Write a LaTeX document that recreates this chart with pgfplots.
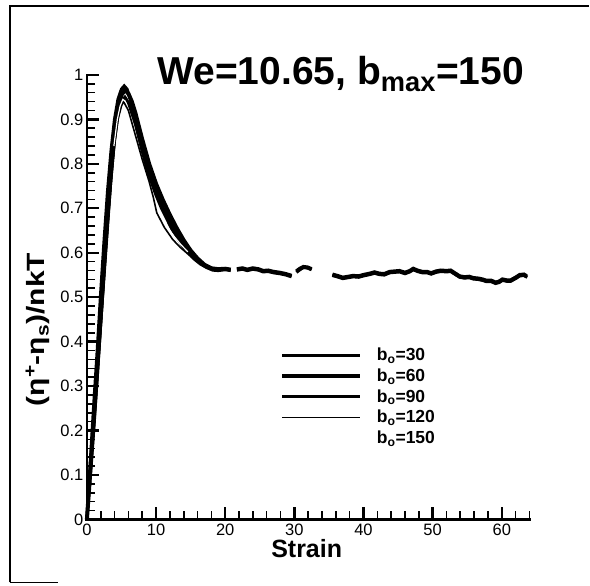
\documentclass[border=0pt]{standalone}
\usepackage{fontspec}
\setmainfont{Liberation Sans}
\usepackage{pgfplots}
\pgfplotsset{compat=1.18}
\begin{document}
\begin{tikzpicture}[x=1pt,y=1pt]
\path (0,0) rectangle (590,-586);
\draw[line width=1.3pt] (10,-583) -- (10,-6) -- (590,-6);
\draw[line width=1.3pt] (10,-583) -- (58,-583);
\begin{axis}[
  at={(87pt,-520pt)}, anchor=south west,
  scale only axis, width=443pt, height=445pt,
  xmin=0, xmax=64, ymin=0, ymax=1,
  axis line style={draw=none},
  xtick pos=left, ytick pos=left,
  xtick align=inside, ytick align=inside,
  xtick={0,10,20,30,40,50,60},
  minor xtick={2,4,6,8,12,14,16,18,22,24,26,28,32,34,36,38,42,44,46,48,52,54,56,58,62,64},
  ytick={0,0.1,0.2,0.3,0.4,0.5,0.6,0.7,0.8,0.9,1},
  minor ytick={0.02,0.04,0.06,0.08,0.12,0.14,0.16,0.18,0.22,0.24,0.26,0.28,0.32,0.34,0.36,0.38,0.42,0.44,0.46,0.48,0.52,0.54,0.56,0.58,0.62,0.64,0.66,0.68,0.72,0.74,0.76,0.78,0.82,0.84,0.86,0.88,0.92,0.94,0.96,0.98},
  major tick length=12pt, minor tick length=8pt,
  tick style={draw=black, line width=1.6pt},
  major tick style={draw=black, line width=2.4pt},
  minor tick style={draw=black, line width=1.6pt},
  tick label style={font=\fontsize{16.5}{16.5}\selectfont},
  xticklabel style={yshift=-1pt},
  yticklabel style={/pgf/number format/.cd, fixed, precision=1},
  /pgf/number format/assume math mode=true,
  clip=false,
  unbounded coords=jump,
  legend cell align=left,
  legend image code/.code={\draw[#1] (0pt,0pt) -- (78pt,0pt); \path (91pt,0pt);},
  legend style={at={(axis cs:27.9,0.39)}, anchor=north west, draw=none, fill=none,
    font=\bfseries\fontsize{17.5}{17.5}\selectfont, row sep=2.5pt, inner sep=0pt},
]
\draw[line width=3pt, line cap=rect] (rel axis cs:0,0) -- (rel axis cs:1,0);
\draw[line width=2.6pt, line cap=rect] (rel axis cs:0,0) -- (rel axis cs:0,1);
% b0=30
\addplot[black, line width=3.2pt] coordinates {
(0,0) (0.5,0.13) (1,0.26) (1.5,0.38) (2,0.51) (2.5,0.63) (3,0.74) (3.5,0.83) (4,0.9) (4.5,0.945) (5,0.968) (5.4,0.975) (5.8,0.968) (6.3,0.945) (6.8,0.91) (7.4,0.87) (8,0.83) (8.6,0.795) (9.2,0.765) (10,0.73) (10.8,0.70) (11.6,0.675) (12.4,0.65) (13.2,0.63) (14,0.612) (14.8,0.598) (15.6,0.585) (16.4,0.575) (17.3,0.567) (18.2,0.561) (19,0.56) (20,0.562) (20.8,0.560)
(21.1,nan)
(21.7,0.561) (22.5,0.563) (23.2,0.560) (24,0.563) (24.8,0.561) (25.5,0.557) (26.2,0.558) (27,0.555) (27.9,0.553) (28.8,0.550) (29.6,0.546)
(29.9,nan)
(30.3,0.556) (30.8,0.562) (31.3,0.567) (31.9,0.566) (32.5,0.562)
(33.5,nan)
(35.5,0.549) (36.2,0.546) (37,0.542) (37.8,0.544) (38.5,0.546) (39.3,0.545) (40,0.548) (40.9,0.551) (41.6,0.554) (42.3,0.551) (43,0.550) (43.8,0.555) (44.5,0.556) (45.2,0.557) (46,0.553) (46.7,0.557) (47.2,0.562) (47.8,0.558) (48.5,0.555) (49.2,0.555) (49.8,0.552) (50.5,0.556) (51.2,0.558) (52,0.557) (52.6,0.558) (53.2,0.552) (53.9,0.545) (54.6,0.543) (55.3,0.544) (55.9,0.541) (56.6,0.540) (57.2,0.538) (57.8,0.535) (58.5,0.535) (59.1,0.531) (59.6,0.533) (60.1,0.538) (60.7,0.536) (61.3,0.536) (62,0.542) (62.6,0.548) (63.2,0.549) (63.7,0.545)
};
\addlegendentry{b\textsubscript{o}=30}
% b0=60
\addplot[black, line width=4pt] coordinates {
(0,0) (0.5,0.11) (1,0.22) (1.5,0.34) (2,0.46) (2.5,0.58) (3,0.69) (3.5,0.79) (4,0.87) (4.5,0.925) (5,0.955) (5.5,0.966) (6,0.958) (6.5,0.94) (7,0.915) (8,0.855) (9,0.80) (10,0.755) (11,0.718) (12,0.685) (13,0.655) (14,0.628) (15,0.605) (16,0.587) (17,0.573) (18,0.565) (19,0.563) (20,0.564) (20.8,0.562)
(21.1,nan)
(21.7,0.563) (22.5,0.565) (23.2,0.562) (24,0.565) (24.8,0.563) (25.5,0.559) (26.2,0.56) (27,0.557) (27.9,0.555) (28.8,0.552) (29.6,0.548)
(29.9,nan)
(30.3,0.558) (30.8,0.564) (31.3,0.568) (31.9,0.567) (32.5,0.563)
(33.5,nan)
(35.5,0.551) (36.2,0.548) (37,0.544) (37.8,0.546) (38.5,0.548) (39.3,0.547) (40,0.55) (40.9,0.553) (41.6,0.556) (42.3,0.553) (43,0.552) (43.8,0.557) (44.5,0.558) (45.2,0.559) (46,0.555) (46.7,0.559) (47.2,0.564) (47.8,0.56) (48.5,0.557) (49.2,0.557) (49.8,0.554) (50.5,0.558) (51.2,0.56) (52,0.559) (52.6,0.56) (53.2,0.554) (53.9,0.547) (54.6,0.545) (55.3,0.546) (55.9,0.543) (56.6,0.542) (57.2,0.54) (57.8,0.537) (58.5,0.537) (59.1,0.533) (59.6,0.535) (60.1,0.54) (60.7,0.538) (61.3,0.538) (62,0.544) (62.6,0.55) (63.2,0.551) (63.6,0.547)
};
\addlegendentry{b\textsubscript{o}=60}
% b0=90
\addplot[black, line width=3pt] coordinates {
(0,0) (0.5,0.1) (1,0.21) (1.5,0.32) (2,0.44) (2.5,0.56) (3,0.67) (3.5,0.77) (4,0.855) (4.5,0.91) (5,0.94) (5.5,0.95) (6,0.938) (7,0.89) (8,0.83) (9,0.78) (10,0.738) (11,0.702) (12,0.67) (13,0.643) (14,0.618) (15,0.597)
};
\addlegendentry{b\textsubscript{o}=90}
% b0=120
\addplot[black, line width=1.6pt] coordinates {
(0,0) (0.5,0.095) (1,0.2) (1.5,0.31) (2,0.42) (2.5,0.53) (3,0.64) (3.5,0.75) (4,0.84) (4.5,0.9) (5,0.93) (5.3,0.94) (6,0.92) (7,0.865) (8,0.81) (9,0.76) (9.6,0.725) (10.1,0.69) (11.2,0.657) (12.4,0.63) (13.5,0.612) (14.4,0.600) (15.5,0.585)
};
\addlegendentry{b\textsubscript{o}=120}
% b0=150 (printed white)
\addplot[white, line width=1.2pt] coordinates {
(3.9,0.84) (4.4,0.9) (4.8,0.93) (5.2,0.945) (5.6,0.94)
(6,nan)
(10.4,0.69) (11.4,0.664) (12.6,0.637) (13.6,0.618) (14.6,0.602)
};
\addlegendentry{b\textsubscript{o}=150}
\end{axis}
\node[anchor=base, font=\bfseries\fontsize{39}{39}\selectfont] at (341,-85) {We=10.65, b\textsubscript{max}=150};
\node[anchor=base, font=\bfseries\fontsize{25}{25}\selectfont] at (307,-558) {Strain};
\node[rotate=90, anchor=base, font=\bfseries\fontsize{25}{25}\selectfont] at (45,-330) {\scalebox{1.2}[1]{(η\textsuperscript{+}-η\textsubscript{s})/nkT}};
\end{tikzpicture}
\end{document}
